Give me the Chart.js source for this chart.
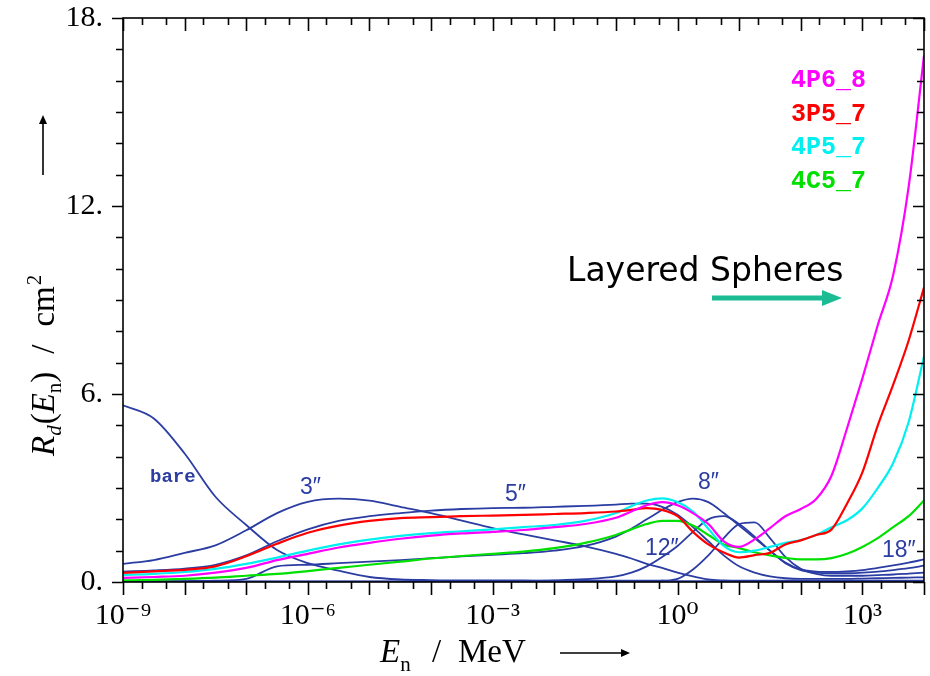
<!DOCTYPE html>
<html>
<head>
<meta charset="utf-8">
<script src="https://cdn.jsdelivr.net/npm/chart.js@4.4.1/dist/chart.umd.min.js"></script>
<style>
  html, body { margin: 0; padding: 0; background: #fff; }
  #wrap { width: 930px; height: 676px; position: relative; }
</style>
</head>
<body>
<div id="wrap"><canvas id="resp"></canvas></div>
<script>
// energy grid as log10(E / MeV)
const logE = [-9, -8.5, -8, -7.5, -7, -6.5, -6, -5.5, -5, -4.5, -4, -3.5, -3, -2.5, -2, -1.5, -1,
  -0.75, -0.5, -0.25, 0, 0.25, 0.5, 0.75, 1, 1.25, 1.5, 1.75, 2, 2.25, 2.5, 2.75, 3, 3.25, 3.5, 3.75, 4];

// Bonner sphere responses, cm^2
const bareDet = [5.64, 5.22, 4.1, 2.72, 1.82, 1.02, 0.6, 0.36, 0.16, 0.08, 0.06, 0.05, 0.05, 0.05, 0.04, 0.04, 0.04,
  0.04, 0.04, 0.04, 0.03, 0.03, 0.03, 0.03, 0.03, 0.03, 0.03, 0.03, 0.03, 0.03, 0.03, 0.03, 0.03, 0.03, 0.03, 0.03, 0.03];
const sphere3 = [0.58, 0.7, 0.93, 1.17, 1.65, 2.2, 2.56, 2.66, 2.6, 2.4, 2.2, 1.96, 1.72, 1.52, 1.33, 1.14, 0.9,
  0.75, 0.58, 0.45, 0.3, 0.18, 0.08, 0.05, 0.04, 0.04, 0.04, 0.04, 0.04, 0.04, 0.04, 0.04, 0.04, 0.04, 0.04, 0.04, 0.04];
const sphere5 = [0.33, 0.37, 0.43, 0.55, 0.85, 1.3, 1.68, 1.95, 2.1, 2.2, 2.28, 2.33, 2.36, 2.37, 2.4, 2.43, 2.47,
  2.5, 2.5, 2.4, 2.15, 1.75, 1.3, 0.85, 0.5, 0.3, 0.18, 0.12, 0.1, 0.1, 0.1, 0.1, 0.11, 0.12, 0.13, 0.14, 0.15];
const sphere8 = [0.02, 0.02, 0.03, 0.04, 0.1, 0.5, 0.55, 0.6, 0.65, 0.7, 0.76, 0.82, 0.87, 0.92, 1.0, 1.15, 1.45,
  1.7, 2.0, 2.3, 2.55, 2.66, 2.55, 2.2, 1.8, 1.4, 1.0, 0.62, 0.4, 0.33, 0.32, 0.34, 0.38, 0.45, 0.53, 0.62, 0.72];
const sphere12 = [0.02, 0.02, 0.02, 0.02, 0.02, 0.02, 0.02, 0.02, 0.02, 0.02, 0.02, 0.02, 0.02, 0.03, 0.05, 0.09, 0.18,
  0.3, 0.5, 0.8, 1.15, 1.6, 2.0, 2.1, 1.85, 1.45, 1.0, 0.6, 0.38, 0.3, 0.28, 0.28, 0.3, 0.33, 0.38, 0.44, 0.52];
const sphere18 = [0.01, 0.01, 0.01, 0.01, 0.01, 0.01, 0.01, 0.01, 0.01, 0.01, 0.01, 0.01, 0.01, 0.01, 0.01, 0.01, 0.01,
  0.01, 0.02, 0.04, 0.1, 0.4, 0.85, 1.4, 1.85, 1.9, 1.4, 0.8, 0.42, 0.26, 0.2, 0.2, 0.2, 0.22, 0.24, 0.27, 0.3];

// layered spheres
const ls4P6_8 = [0.13, 0.16, 0.2, 0.3, 0.45, 0.7, 0.9, 1.1, 1.25, 1.38, 1.48, 1.55, 1.6, 1.66, 1.75, 1.85, 2.05,
  2.25, 2.45, 2.55, 2.45, 2.2, 1.85, 1.3, 1.12, 1.36, 1.72, 2.1, 2.33, 2.65, 3.4, 4.9, 6.5, 8.2, 9.8, 12.6, 16.8];
const ls3P5_7 = [0.29, 0.34, 0.39, 0.5, 0.82, 1.22, 1.57, 1.8, 1.95, 2.04, 2.07, 2.1, 2.12, 2.14, 2.17, 2.2, 2.25,
  2.3, 2.36, 2.3, 2.1, 1.6, 1.2, 0.94, 0.78, 0.86, 0.93, 1.2, 1.33, 1.5, 1.68, 2.5, 3.5, 5.0, 6.3, 7.7, 9.4];
const ls4P5_7 = [0.22, 0.26, 0.32, 0.42, 0.58, 0.78, 1.0, 1.2, 1.35, 1.47, 1.56, 1.62, 1.68, 1.75, 1.82, 1.95, 2.2,
  2.42, 2.6, 2.67, 2.55, 2.25, 1.7, 1.15, 0.95, 1.0, 1.12, 1.25, 1.34, 1.5, 1.75, 1.97, 2.35, 3.0, 3.8, 5.1, 7.2];
const ls4C5_7 = [0.05, 0.07, 0.1, 0.14, 0.2, 0.26, 0.35, 0.45, 0.55, 0.65, 0.75, 0.83, 0.9, 0.97, 1.08, 1.25, 1.5,
  1.68, 1.85, 1.95, 1.95, 1.8, 1.5, 1.2, 1.08, 0.95, 0.85, 0.77, 0.72, 0.72, 0.76, 0.9, 1.12, 1.4, 1.75, 2.1, 2.6];

const layeredNames = ['4P6_8', '3P5_7', '4P5_7', '4C5_7'];
const layeredColors = ['#ff00ff', '#ff0000', '#00f0f0', '#00e000'];
const yTickLabels = { 0: '0.', 6: '6.', 12: '12.', 18: '18.' };

const BLUE = '#2b3da3';
const SERIF = "'Liberation Serif', 'DejaVu Serif', serif";

const SUP = { '-': '\u207b', '0': '\u2070', '1': '\u00b9', '2': '\u00b2', '3': '\u00b3', '4': '\u2074',
  '5': '\u2075', '6': '\u2076', '7': '\u2077', '8': '\u2078', '9': '\u2079' };
const supText = n => String(n).split('').map(c => SUP[c]).join('');

const toPoints = vals => vals.map((v, i) => ({ x: Math.pow(10, logE[i]), y: v }));

function lineSet(label, vals, color, width) {
    return {
        label: label,
        data: toPoints(vals),
        borderColor: color,
        borderWidth: width,
        pointRadius: 0,
        fill: false,
        cubicInterpolationMode: 'monotone'
    };
}

// first datasets end up on top
const datasets = [
    lineSet('4P6_8', ls4P6_8, layeredColors[0], 2.2),
    lineSet('3P5_7', ls3P5_7, layeredColors[1], 2.2),
    lineSet('4P5_7', ls4P5_7, layeredColors[2], 2.2),
    lineSet('4C5_7', ls4C5_7, layeredColors[3], 2.2),
    lineSet('bare', bareDet, BLUE, 1.8),
    lineSet('3"', sphere3, BLUE, 1.8),
    lineSet('5"', sphere5, BLUE, 1.8),
    lineSet('8"', sphere8, BLUE, 1.8),
    lineSet('12"', sphere12, BLUE, 1.8),
    lineSet('18"', sphere18, BLUE, 1.8)
];

function isDecade(v) {
    const e = Math.log10(v);
    return Math.abs(e - Math.round(e)) < 1e-6;
}

function drawArrow(ctx, x1, y1, x2, y2, lw, head, half, color) {
    const ang = Math.atan2(y2 - y1, x2 - x1);
    const bx = x2 - Math.cos(ang) * head, by = y2 - Math.sin(ang) * head;
    ctx.strokeStyle = color;
    ctx.fillStyle = color;
    ctx.lineWidth = lw;
    ctx.beginPath();
    ctx.moveTo(x1, y1);
    ctx.lineTo(bx + Math.cos(ang), by + Math.sin(ang));
    ctx.stroke();
    ctx.beginPath();
    ctx.moveTo(x2, y2);
    ctx.lineTo(bx - Math.sin(ang) * half, by + Math.cos(ang) * half);
    ctx.lineTo(bx + Math.sin(ang) * half, by - Math.cos(ang) * half);
    ctx.closePath();
    ctx.fill();
}

// draws a text run and returns where the next one starts
function run(ctx, text, x, y, font) {
    ctx.font = font;
    ctx.fillText(text, x, y);
    return x + ctx.measureText(text).width;
}

const frameAndNotes = {
    id: 'frameAndNotes',
    afterDraw(chart) {
        const { ctx, chartArea: a, scales: { x, y } } = chart;
        ctx.save();

        // frame
        ctx.strokeStyle = '#000';
        ctx.lineWidth = 1.6;
        ctx.strokeRect(a.left, a.top, a.right - a.left, a.bottom - a.top);

        // ticks: bottom and left outward, top and right inward
        ctx.lineWidth = 1.6;
        ctx.beginPath();
        x.ticks.forEach(t => {
            const px = Math.round(x.getPixelForValue(t.value)) + 0.5;
            const len = isDecade(t.value) ? 13 : 7;
            ctx.moveTo(px, a.bottom); ctx.lineTo(px, a.bottom + len);
            ctx.moveTo(px, a.top); ctx.lineTo(px, a.top + len);
        });
        y.ticks.forEach(t => {
            const py = Math.round(y.getPixelForValue(t.value)) + 0.5;
            const len = t.value % 6 === 0 ? 11 : 7;
            ctx.moveTo(a.left, py); ctx.lineTo(a.left - len, py);
            ctx.moveTo(a.right, py); ctx.lineTo(a.right - len, py);
        });
        ctx.stroke();

        ctx.fillStyle = '#000';
        ctx.textBaseline = 'alphabetic';
        ctx.textAlign = 'left';

        // y axis title, rotated
        ctx.save();
        ctx.translate(54, 456);
        ctx.rotate(-Math.PI / 2);
        let cx = 0;
        cx = run(ctx, 'R', cx, 0, 'italic 33px ' + SERIF);
        cx = run(ctx, 'd', cx, 7, 'italic 21px ' + SERIF);
        cx = run(ctx, '(', cx + 1, 0, '33px ' + SERIF);
        cx = run(ctx, 'E', cx, 0, 'italic 33px ' + SERIF);
        cx = run(ctx, 'n', cx, 7, '21px ' + SERIF);
        cx = run(ctx, ')', cx, 0, '33px ' + SERIF);
        cx = run(ctx, '/', cx + 18, 0, '33px ' + SERIF);
        cx = run(ctx, 'cm', cx + 18, 0, '33px ' + SERIF);
        run(ctx, '2', cx + 1, -13, '21px ' + SERIF);
        drawArrow(ctx, 281, -11, 341, -11, 1.6, 9, 4, '#000');
        ctx.restore();

        // x axis title
        ctx.fillStyle = '#000';
        cx = run(ctx, 'E', 380, 662, 'italic 33px ' + SERIF);
        run(ctx, 'n', cx, 671, '21px ' + SERIF);
        run(ctx, '/', 432, 662, '33px ' + SERIF);
        run(ctx, 'MeV', 458, 662, '33px ' + SERIF);
        drawArrow(ctx, 560, 653, 630, 653, 1.6, 9, 4, '#000');

        // layered sphere names
        layeredNames.forEach((n, i) => {
            ctx.fillStyle = layeredColors[i];
            run(ctx, n, 791, 87 + i * 33.5, 'bold 25px "Liberation Mono", monospace');
        });

        // sphere labels
        ctx.fillStyle = BLUE;
        run(ctx, 'bare', 150, 482, 'bold 19px "Liberation Mono", monospace');
        const sans = '23px "Liberation Sans", sans-serif';
        run(ctx, '3\u2033', 300, 494, sans);
        run(ctx, '5\u2033', 505, 501, sans);
        run(ctx, '8\u2033', 698, 489, sans);
        run(ctx, '12\u2033', 645, 555, sans);
        run(ctx, '18\u2033', 882, 557, sans);

        // annotation
        ctx.fillStyle = '#000';
        run(ctx, 'Layered Spheres', 567, 281, '33px "DejaVu Sans", sans-serif');
        drawArrow(ctx, 712, 298, 842, 298, 5, 20, 8, '#1bbc94');

        ctx.restore();
    }
};

new Chart(document.getElementById('resp'), {
    type: 'line',
    data: { datasets: datasets },
    options: {
        responsive: true,
        maintainAspectRatio: false,
        animation: false,
        devicePixelRatio: 1,
        layout: { padding: { left: 0, right: 6, top: 18, bottom: 0 } },
        plugins: { legend: { display: false }, tooltip: { enabled: false } },
        scales: {
            x: {
                type: 'logarithmic',
                min: 1e-9,
                max: 1e4,
                grid: { display: false, drawTicks: false },
                border: { display: false },
                afterBuildTicks: scale => {
                    const ticks = [];
                    for (let d = -9; d <= 4; d++) {
                        [1, 2, 5].forEach(m => {
                            const v = m * Math.pow(10, d);
                            if (v <= 1.0001e4) ticks.push({ value: v });
                        });
                    }
                    scale.ticks = ticks;
                },
                afterFit: scale => {
                    scale.height = 94;
                    scale.paddingLeft = 0;
                    scale.paddingRight = 0;
                },
                ticks: {
                    autoSkip: false,
                    maxRotation: 0,
                    padding: 16,
                    color: '#000',
                    font: { family: SERIF, size: 30 },
                    callback: v => {
                        if (!isDecade(v)) return '';
                        const e = Math.round(Math.log10(v));
                        return e % 3 === 0 ? '10' + supText(e) : '';
                    }
                }
            },
            y: {
                min: 0,
                max: 18,
                grid: { display: false, drawTicks: false },
                border: { display: false },
                afterFit: scale => {
                    scale.width = 123;
                    scale.paddingTop = 0;
                    scale.paddingBottom = 0;
                },
                ticks: {
                    stepSize: 1,
                    autoSkip: false,
                    padding: 20,
                    color: '#000',
                    font: { family: SERIF, size: 30 },
                    callback: v => yTickLabels[v] || ''
                }
            }
        }
    },
    plugins: [frameAndNotes]
});
</script>
</body>
</html>
